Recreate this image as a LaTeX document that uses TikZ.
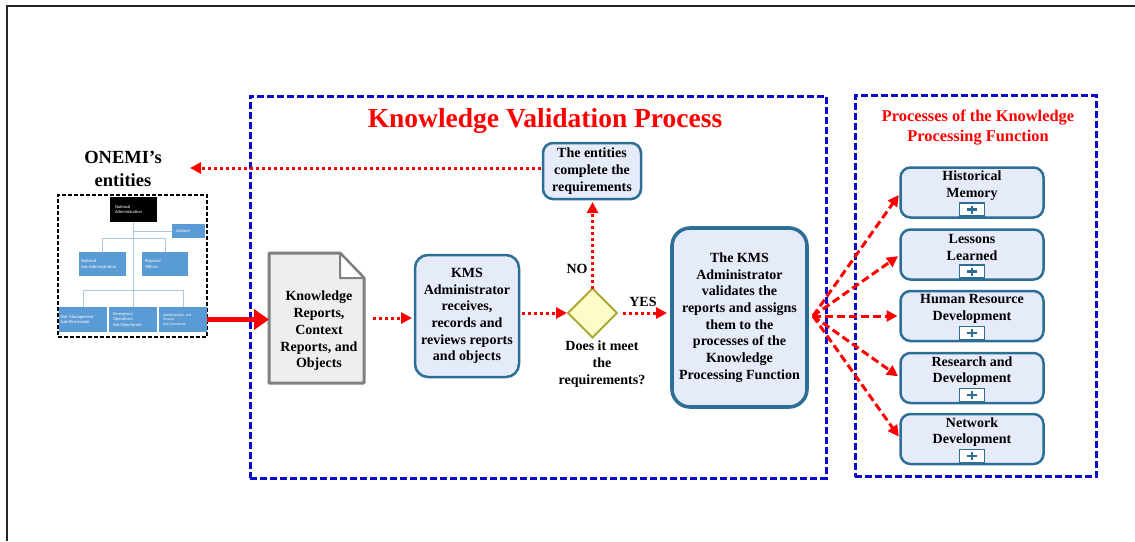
\documentclass[tikz,border=0pt]{standalone}
\usepackage{fontspec}
\setmainfont{Liberation Serif}
\newfontfamily\orgfont{Carlito}
\usetikzlibrary{arrows.meta,shapes.geometric}
\definecolor{kred}{RGB}{255,0,0}
\definecolor{kblue}{RGB}{10,10,205}
\definecolor{boxline}{RGB}{45,110,150}
\definecolor{boxfill}{RGB}{230,235,250}
\definecolor{docfill}{RGB}{238,238,238}
\definecolor{docline}{RGB}{128,128,128}
\definecolor{diafill}{RGB}{252,252,200}
\definecolor{dialine}{RGB}{170,170,50}
\definecolor{orgblue}{RGB}{91,155,213}
\definecolor{orgline}{RGB}{170,200,225}
\begin{document}
\begin{tikzpicture}[x=1pt,y=-1pt,
  every node/.style={inner sep=0pt, outer sep=0pt},
  bframe/.style={draw=kblue, line width=3pt, dash pattern=on 7pt off 3pt},
  rbox/.style={draw=boxline, fill=boxfill, line width=2.5pt, rounded corners=13pt, align=center,
    font=\bfseries\fontsize{14}{16.7}\selectfont},
  pbox/.style={draw=boxline, fill=boxfill, line width=2.5pt, rounded corners=10pt,
    minimum width=143pt, minimum height=50pt},
  ptext/.style={align=center, font=\bfseries\fontsize{14}{16.7}\selectfont},
  plusbox/.style={draw=boxline, fill=white, line width=1.6pt, minimum width=25pt, minimum height=13pt},
  plusline/.style={draw=boxline, line width=2.4pt},
  dotarrow/.style={draw=kred, line width=3pt, dash pattern=on 3pt off 3pt,
    -{Triangle[length=11pt,width=11pt]}, kred},
  dasharrow/.style={draw=kred, line width=3pt, dash pattern=on 8pt off 4pt,
    -{Triangle[length=11pt,width=11pt]}, kred},
  orgbox/.style={fill=orgblue, text=white, align=left, font=\orgfont\fontsize{4.5}{5.5}\selectfont},
  orgl/.style={draw=orgline, line width=1pt},
  lbl/.style={font=\bfseries\fontsize{14}{16.7}\selectfont, align=center}
]
\useasboundingbox (0,0) rectangle (1135,541);
% outer frame
\draw[line width=2pt, black!85] (7,541) -- (7,6) -- (1135,6);

% blue dashed frames
\node[bframe, minimum width=576pt, minimum height=382pt] (vframe) at (538,287) {};
\node[bframe, minimum width=241pt, minimum height=381pt] (pframe) at (975.5,286) {};

% titles
\node[font=\bfseries\fontsize{27.5}{32}\selectfont, text=kred] (title) at (545,121) {Knowledge Validation Process};
\node[font=\bfseries\fontsize{16.4}{19.5}\selectfont, text=kred, align=center] (phead) at (978,127.5)
  {Processes of the Knowledge\\Processing Function};
\node[font=\bfseries\fontsize{18.5}{23}\selectfont, align=center] (onemi) at (123,168.5) {ONEMI's\\entities};

% org chart
\node[draw=black, line width=1.4pt, dash pattern=on 4pt off 2pt, minimum width=149pt, minimum height=142pt] (org) at (132.5,266) {};
\node[fill=black, text=white, align=left, font=\orgfont\fontsize{4.5}{5.5}\selectfont,
  minimum width=47pt, minimum height=25pt, text width=37pt] (natadm) at (133.5,209.5) {National\\Administration};
\node[orgbox, minimum width=33pt, minimum height=14pt, text width=25pt] (cab) at (188.5,231) {Cabinet};
\node[orgbox, minimum width=47pt, minimum height=24pt, text width=43pt] (nsub) at (102.5,264) {National\\Sub-Administration};
\node[orgbox, minimum width=46pt, minimum height=24pt, text width=40pt] (reg) at (165,264) {Regional\\Offices};
\node[orgbox, minimum width=48pt, minimum height=25pt, text width=45pt] (risk) at (83,319.5) {Risk Management\\Sub-Directorate};
\node[orgbox, minimum width=48pt, minimum height=25pt, text width=40pt] (emer) at (133,319.5) {Emergency\\Operations\\Sub-Directorate};
\node[orgbox, minimum width=48pt, minimum height=25pt, text width=40pt, font=\orgfont\fontsize{3.6}{4.5}\selectfont] (admf) at (183,319.5) {Administration and\\Finance\\Sub-Directorate};
\draw[orgl] (natadm.south) -- (natadm.south |- emer.north);
\draw[orgl] (risk.north) -- ++(0,-17) -| (admf.north);
\draw[orgl] (natadm.south |- cab.west) -- (cab.west);
\draw[orgl] (nsub.north) -- ++(0,-14) -| (reg.north);

% document
\node[minimum width=95pt, minimum height=130pt] (doc) at (316.5,318) {};
\draw[draw=docline, fill=docfill, line width=3pt, line join=round]
  (doc.north west) -- ([xshift=-24pt]doc.north east) -- ([yshift=-25pt]doc.north east) -- (doc.south east) -- (doc.south west) -- cycle;
\draw[draw=docline, fill=white, line width=2pt, line join=round]
  ([xshift=-24pt]doc.north east) -- ([xshift=-24pt,yshift=-25pt]doc.north east) -- ([yshift=-25pt]doc.north east) -- cycle;
\node[lbl, font=\bfseries\fontsize{14}{16.7}\selectfont] (doctxt) at (319,331) {Knowledge\\Reports,\\Context\\Reports, and\\Objects};

% KMS box
\node[rbox, minimum width=104pt, minimum height=122pt] (kms) at (467,316)
  {KMS\\Administrator\\receives,\\records and\\reviews reports\\and objects};

% diamond
\node[diamond, aspect=1, draw=dialine, fill=diafill, line width=2pt, minimum width=49pt, minimum height=49pt] (dia) at (592.5,313) {};
\node[lbl] (diatxt) at (602,364) {Does it meet\\the\\requirements?};
\node[lbl] (no) at (577,269) {NO};
\node[lbl] (yes) at (643,302) {YES};

% entities box
\node[rbox, minimum width=98pt, minimum height=56pt, rounded corners=10pt] (ent) at (592,171)
  {The entities\\complete the\\requirements};

% validate box
\node[rbox, line width=3.6pt, rounded corners=18pt, minimum width=135pt, minimum height=179pt] (val) at (739.5,317.5)
  {The KMS\\Administrator\\validates the\\reports and assigns\\them to the\\processes of the\\Knowledge\\Processing Function};

% right boxes
\foreach \n/\yy/\t in {hist/192.5/{Historical\\Memory}, less/254.5/{Lessons\\Learned},
  hrd/316/{Human Resource\\Development}, rnd/378/{Research and\\Development}, net/439/{Network\\Development}}{
  \node[pbox] (\n) at (972,\yy) {};
  \node[ptext] (\n txt) at ([yshift=7pt]\n.center) {\t};
  \node[plusbox] (\n plus) at ([yshift=8pt]\n.south) {};
  \draw[plusline] ([xshift=-5pt]\n plus.center) -- ([xshift=5pt]\n plus.center);
  \draw[plusline] ([yshift=-4pt]\n plus.center) -- ([yshift=4pt]\n plus.center);
}

% connectors
\draw[draw=kred, line width=5pt, -{Triangle[length=15pt,width=20pt]}, kred] (admf.east) -- (admf.east -| doc.west);
\draw[dotarrow, shorten <=9pt, shorten >=3pt] (doc.east) -- (kms.west |- doc.east);
\draw[dotarrow, shorten <=3pt, shorten >=1pt] (kms.east |- dia.west) -- (dia.west);
\draw[dotarrow, shorten <=6pt, shorten >=5pt] (dia.east) -- (val.west |- dia.east);
\draw[dotarrow, shorten >=3pt] (dia.north) -- (ent.south -| dia.north);
\coordinate (back) at (190,168);
\draw[dotarrow, shorten <=2pt] (ent.west |- back) -- (back);
\coordinate (fan) at (813,316);
\foreach \n in {hist,less,hrd,rnd,net}{
  \draw[dasharrow, shorten >=3pt] (fan) -- (\n.west);
}
\end{tikzpicture}
\end{document}
